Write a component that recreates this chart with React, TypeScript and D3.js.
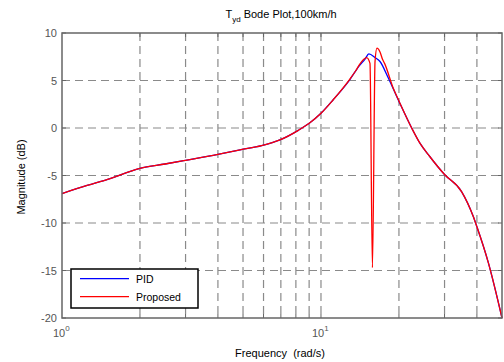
import React from "react";
import * as d3 from "d3";

const pidFreq = [1, 1.25, 1.5, 2, 2.5, 3, 4, 4.87, 5.9, 6.94, 8.17, 9.06, 10, 11.13, 12.93, 14.1, 14.8, 15.3, 16.2, 16.9, 18.1, 20, 22.4, 24.1, 26.3, 30, 34.9, 38.7, 40, 44.3, 50];
const pidMag = [-6.9, -6.05, -5.4, -4.25, -3.79, -3.4, -2.77, -2.3, -1.86, -1.26, -0.25, 0.55, 1.55, 2.95, 5.1, 6.6, 7.26, 7.8, 7.4, 7.0, 5.4, 2.8, 0, -1.6, -3.0, -4.9, -6.7, -9.3, -10.4, -14.2, -20];

const propFreq = [1, 1.25, 1.5, 2, 2.5, 3, 4, 4.87, 5.9, 6.94, 8.17, 9.06, 10, 11.13, 12.93, 13.6, 14.1, 14.6, 15.0, 15.46, 15.8, 16.17, 16.45, 16.9, 17.3, 17.6, 19.0, 20, 22.4, 24.1, 26.3, 30, 34.9, 38.7, 40, 44.3, 50];
const propMag = [-6.9, -6.05, -5.4, -4.25, -3.79, -3.4, -2.77, -2.3, -1.86, -1.26, -0.25, 0.55, 1.55, 2.95, 5.15, 6.0, 6.7, 7.2, 7.4, 6.8, -14.7, 7.0, 8.4, 8.0, 7.2, 6.8, 4.2, 2.85, 0, -1.6, -3.0, -4.9, -6.7, -9.3, -10.4, -14.2, -20];

const yTicks = [10, 5, 0, -5, -10, -15, -20];
const xGrid = [2, 3, 4, 5, 6, 7, 8, 9, 10, 20, 30, 40];
const xLabelTicks = [1, 10];
const seriesNames = ["PID", "Proposed"];
const seriesColors = ["#0000ff", "#ff0000"];

const W = 504, H = 362;
const L = 62, R = 502, T = 33, B = 318;

export default function App() {
  const x = d3.scaleLog().domain([1, 50]).range([L, R]);
  const y = d3.scaleLinear().domain([-20, 10]).range([B, T]);
  const line = d3.line<[number, number]>().x(d => x(d[0])).y(d => y(d[1])).curve(d3.curveMonotoneX);
  const pidPath = line(pidFreq.map((f, i) => [f, pidMag[i]]) as [number, number][]) || "";
  const propPath = line(propFreq.map((f, i) => [f, propMag[i]]) as [number, number][]) || "";
  const gridColor = "#8a8a8a";
  const axisColor = "#666";
  const font = "'Liberation Sans', Arial, sans-serif";
  return (
    <svg width={W} height={H} style={{ position: "absolute", left: 0, top: 0, background: "#fff" }} fontFamily={font}>
      <rect x={0} y={0} width={W} height={H} fill="#fff" />
      {xGrid.map(v => (
        <line key={"gx" + v} x1={x(v)} x2={x(v)} y1={T} y2={B} stroke={gridColor} strokeWidth={1.2} strokeDasharray="8,5" />
      ))}
      {yTicks.filter(v => v !== 10 && v !== -20).map(v => (
        <line key={"gy" + v} x1={L} x2={R} y1={y(v)} y2={y(v)} stroke={gridColor} strokeWidth={1.2} strokeDasharray="8,5" />
      ))}
      {yTicks.map(v => (
        <g key={"ty" + v}>
          <line x1={L} x2={L + 4} y1={y(v)} y2={y(v)} stroke={axisColor} />
          <line x1={R - 4} x2={R} y1={y(v)} y2={y(v)} stroke={axisColor} />
        </g>
      ))}
      {xGrid.map(v => (
        <g key={"tx" + v}>
          <line x1={x(v)} x2={x(v)} y1={B} y2={B - 4} stroke={axisColor} />
          <line x1={x(v)} x2={x(v)} y1={T} y2={T + 4} stroke={axisColor} />
        </g>
      ))}
      <path d={pidPath} fill="none" stroke={seriesColors[0]} strokeWidth={1.3} />
      <path d={propPath} fill="none" stroke={seriesColors[1]} strokeWidth={1.3} />
      <rect x={L} y={T} width={R - L} height={B - T} fill="none" stroke={axisColor} strokeWidth={1.5} />
      {yTicks.map(v => (
        <text key={"ly" + v} x={L - 5} y={y(v) + 4} textAnchor="end" fontSize={11} fill="#555">{v}</text>
      ))}
      {xLabelTicks.map(v => (
        <text key={"lx" + v} x={x(v) - 9} y={337} fontSize={11} fill="#555">
          10<tspan dy={-6} fontSize={8}>{Math.round(Math.log10(v))}</tspan>
        </text>
      ))}
      <text x={280} y={357} textAnchor="middle" fontSize={11} fill="#000" style={{ whiteSpace: "pre" }}>{"Frequency  (rad/s)"}</text>
      <text transform={`translate(25,177) rotate(-90)`} textAnchor="middle" fontSize={11} fill="#000">Magnitude (dB)</text>
      <text x={281} y={18} textAnchor="middle" fontSize={11} fill="#000">
        T<tspan dy={4} fontSize={8}>yd</tspan><tspan dy={-4}> Bode Plot,100km/h</tspan>
      </text>
      <rect x={71} y={269} width={127} height={39} fill="#fff" stroke="#000" strokeWidth={1.5} />
      {seriesNames.map((n, i) => (
        <g key={n}>
          <line x1={80} x2={129} y1={278.7 + i * 18} y2={278.7 + i * 18} stroke={seriesColors[i]} strokeWidth={1.3} />
          <text x={136} y={282.5 + i * 18} fontSize={10.5} fill="#000">{n}</text>
        </g>
      ))}
    </svg>
  );
}
